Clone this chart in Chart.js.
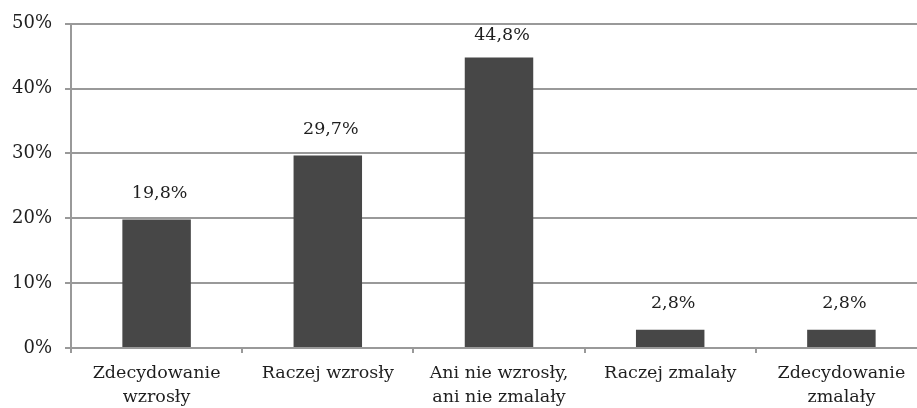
<!DOCTYPE html>
<html><head><meta charset="utf-8">
<script src="https://cdn.jsdelivr.net/npm/chart.js@4/dist/chart.umd.min.js"></script>
<style>html,body{margin:0;padding:0;overflow:hidden;background:#fff;width:917px;height:408px}canvas{display:block}</style>
</head><body>
<canvas id="c" width="927" height="420"></canvas>
<script>
const categories = [["Zdecydowanie","wzrosły"],"Raczej wzrosły",["Ani nie wzrosły,","ani nie zmalały"],"Raczej zmalały",["Zdecydowanie","zmalały"]];
const values = [19.8, 29.7, 44.8, 2.8, 2.8];
const yTicks = [0, 10, 20, 30, 40, 50];

const FONT = "'DejaVu Serif', serif";
const labelPlugin = {
  id: 'valLabels',
  afterDatasetsDraw(chart) {
    const ctx = chart.ctx;
    const meta = chart.getDatasetMeta(0);
    ctx.save();
    ctx.font = "17.5px " + FONT;
    ctx.fillStyle = '#1e1e1e';
    ctx.textAlign = 'center';
    ctx.textBaseline = 'middle';
    meta.data.forEach((bar, i) => {
      const y = Math.max(bar.y - 26, 35);
      ctx.fillText(values[i].toFixed(1).replace('.', ',') + '%', bar.x + 3, y);
    });
    ctx.restore();
  }
};

new Chart(document.getElementById('c'), {
  type: 'bar',
  data: { labels: categories, datasets: [{ data: values, backgroundColor: '#474747', borderWidth: 0, barPercentage: 0.4, categoryPercentage: 1.0 }] },
  options: {
    responsive: false, animation: false,
    layout: { padding: { top: 23, left: 0, right: 0, bottom: 0 } },
    plugins: { legend: { display: false }, tooltip: { enabled: false } },
    scales: {
      x: {
        afterFit(s) { s.height = 72; },
        grid: { drawOnChartArea: false, drawTicks: true, tickLength: 5, color: '#999', lineWidth: 2, offset: true },
        border: { color: '#999', width: 2 },
        ticks: { color: '#1e1e1e', font: { family: FONT, size: 17.5, lineHeight: 1.4 }, padding: 8, maxRotation: 0, autoSkip: false }
      },
      y: {
        min: 0, max: 50,
        afterFit(s) { s.width = 71; },
        afterBuildTicks(s) { s.ticks = yTicks.map(v => ({ value: v })); },
        grid: { color: '#999', lineWidth: 2, tickLength: 6 },
        border: { color: '#999', width: 2 },
        ticks: { color: '#1e1e1e', font: { family: FONT, size: 18 }, padding: 13, callback: v => v + '%' }
      }
    }
  },
  plugins: [labelPlugin]
});
</script>
</body></html>
